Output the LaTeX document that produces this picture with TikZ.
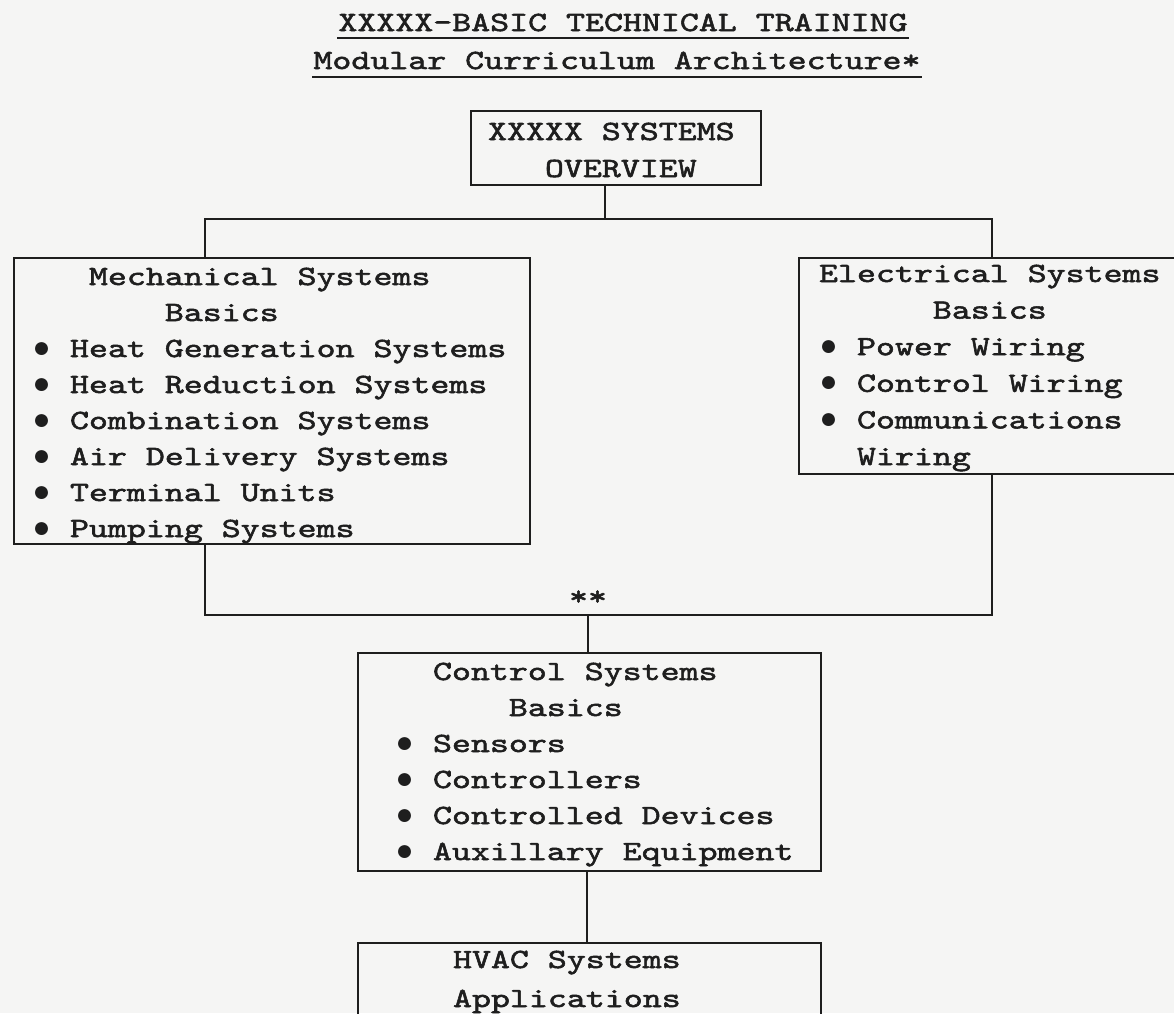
\documentclass[tikz,border=0pt]{standalone}
\usepackage{fontspec}
\newfontfamily\tw{lmmono10-regular.otf}[FakeStretch=1.3,FakeBold=2]
\newfontfamily\bulf{Liberation Mono}
\definecolor{paper}{RGB}{245,245,244}
\definecolor{ink}{RGB}{30,30,30}
\newcommand\ind[1]{\hspace*{#1\fontcharwd\font`M}}
\newcommand\sz[1]{\tw\fontsize{27.8}{#1}\selectfont}
\newcommand\bul{\makebox[\fontcharwd\font`M][c]{\bulf\fontsize{30}{30}\selectfont ●}}
\begin{document}
\begin{tikzpicture}[x=1pt,y=-1pt,line width=2.1pt,draw=ink,text=ink,
  box/.style={draw=ink,rectangle,inner sep=0pt,anchor=north west},
  txt/.style={anchor=base west,align=left,inner sep=0pt},
  ttl/.style={anchor=base,inner sep=0pt,font=\sz{36}},
  uline/.style={line width=2.6pt}]
\fill[paper] (0,0) rectangle (1174,1013);
\useasboundingbox (0,0) rectangle (1174,1013);

% titles
\node[ttl] (t1) at (623,31) {XXXXX-BASIC TECHNICAL TRAINING};
\node[ttl] (t2) at (617,69) {Modular Curriculum Architecture*};
\draw[uline] ([yshift=-7pt]t1.base west) -- ([yshift=-7pt]t1.base east);
\draw[uline] ([yshift=-8pt]t2.base west) -- ([yshift=-8pt]t2.base east);

% boxes
\node[box,minimum width=290pt,minimum height=74pt] (top) at (470,110) {};
\node[box,minimum width=516pt,minimum height=286pt] (mech) at (12.5,257) {};
\node[box,minimum width=385pt,minimum height=216pt] (elec) at (798,257) {};
\node[box,minimum width=463pt,minimum height=218pt] (ctrl) at (357,652) {};
\node[box,minimum width=463pt,minimum height=95pt] (hvac) at (357,942) {};

% box texts (anchored at the baseline of the last line)
\node[txt,font=\sz{37}] (toptxt) at (487,177) {XXXXX SYSTEMS\\\ind{3}OVERVIEW};
\node[txt,font=\sz{36}] (mechtxt) at (31,537) {\ind{3}Mechanical Systems\\
\ind{7}Basics\\
\bul\ Heat Generation Systems\\
\bul\ Heat Reduction Systems\\
\bul\ Combination Systems\\
\bul\ Air Delivery Systems\\
\bul\ Terminal Units\\
\bul\ Pumping Systems};
\node[txt,font=\sz{36.6}] (electxt) at (818,465) {Electrical Systems\\
\ind{6}Basics\\
\bul\ Power Wiring\\
\bul\ Control Wiring\\
\bul\ Communications\\
\ind{2}Wiring};
\node[txt,font=\sz{36}] (ctrltxt) at (394,860) {\ind{2}Control Systems\\
\ind{6}Basics\\
\bul\ Sensors\\
\bul\ Controllers\\
\bul\ Controlled Devices\\
\bul\ Auxillary Equipment};
\node[txt,font=\sz{39}] (hvactxt) at (452,1007) {HVAC Systems\\Applications};

% connectors
\coordinate (j1) at (605,219);
\coordinate (jl) at (205,219);
\coordinate (jr) at (992,219);
\draw (top.south -| j1) -- (j1);
\draw (mech.north -| jl) -- (jl) -- (jr) -- (elec.north -| jr);

\coordinate (kl) at (205,615);
\coordinate (kr) at (992,615);
\coordinate (k) at (588,615);
\draw (mech.south -| kl) -- (kl) -- (kr) -- (elec.south -| kr);
\draw (k) -- (ctrl.north -| k);
\node[anchor=base,inner sep=0pt,font=\sz{36}] (stars) at (588,605) {**};

\coordinate (m) at (587,900);
\draw (ctrl.south -| m) -- (hvac.north -| m);
\end{tikzpicture}
\end{document}
